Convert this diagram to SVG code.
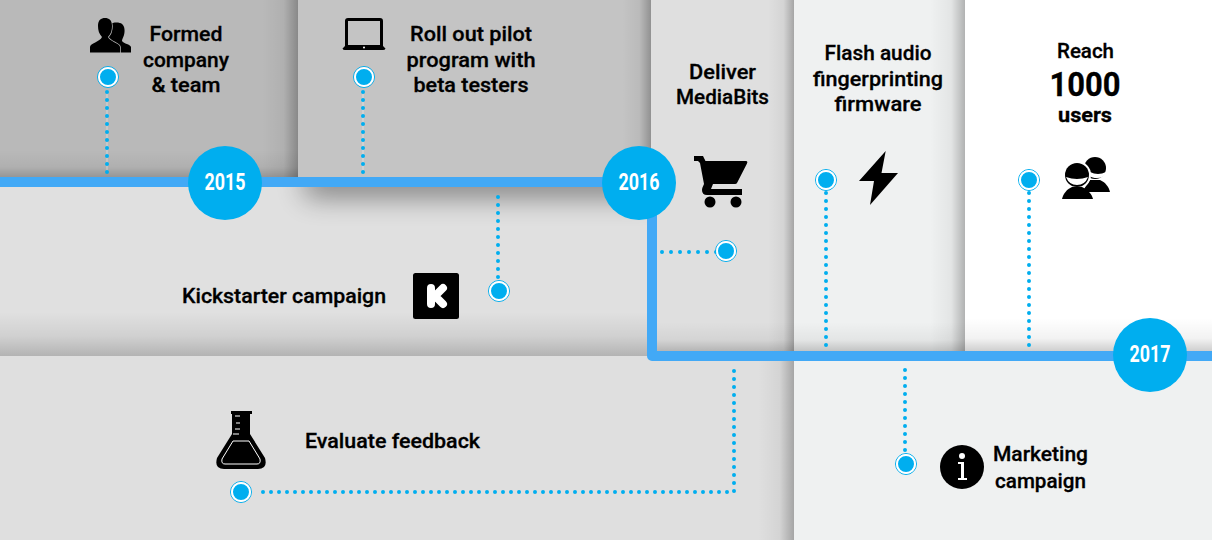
<svg xmlns="http://www.w3.org/2000/svg" width="1212" height="540" viewBox="0 0 1212 540">
<style>
text{font-family:"Roboto","Liberation Sans",sans-serif;font-weight:500;font-size:21px;fill:#000;text-anchor:middle}
.lab{font-weight:500;stroke:#000;stroke-width:.3px}
.strong{font-weight:700}
.yr{font-size:24px;fill:#fff;font-weight:700}
.dot{fill:none;stroke:#00aeef;stroke-width:4;stroke-linecap:round;stroke-dasharray:0 8}
.wide{stroke-dasharray:0 9}
.faint{fill:none;stroke:#fff;stroke-opacity:.45;stroke-width:1}
.ring{fill:#00aeef;stroke:#fff;stroke-width:2}
.halo{fill:none;stroke:#00aeef;stroke-width:1}
.big{fill:#00aeef}
</style>
<defs>
<linearGradient id="r" x1="0" x2="1" y1="0" y2="0"><stop offset="0" stop-color="#000" stop-opacity="0"/><stop offset=".6" stop-color="#000" stop-opacity=".05"/><stop offset="1" stop-color="#000" stop-opacity=".26"/></linearGradient>
<linearGradient id="b" x1="0" x2="0" y1="0" y2="1"><stop offset="0" stop-color="#000" stop-opacity="0"/><stop offset=".6" stop-color="#000" stop-opacity=".05"/><stop offset="1" stop-color="#000" stop-opacity=".2"/></linearGradient>
<linearGradient id="b2" x1="0" x2="0" y1="0" y2="1"><stop offset="0" stop-color="#000" stop-opacity="0"/><stop offset=".55" stop-color="#000" stop-opacity=".07"/><stop offset="1" stop-color="#000" stop-opacity=".2"/></linearGradient>
<filter id="blur" x="-20%" y="-100%" width="140%" height="300%"><feGaussianBlur stdDeviation="14"/></filter>
<clipPath id="low"><rect x="0" y="187" width="651" height="169"/></clipPath>
</defs>
<g id="background">
<rect x="0" y="0" width="298" height="180" fill="#b9b9b9"/>
<rect x="298" y="0" width="353" height="180" fill="#c4c4c4"/>
<rect x="651" y="0" width="143" height="356" fill="#dfdfdf"/>
<rect x="794" y="0" width="171" height="356" fill="#eff1f1"/>
<rect x="965" y="0" width="247" height="356" fill="#fff"/>
<rect x="0" y="185" width="651" height="171" fill="#e0e0e0"/>
<rect x="0" y="356" width="794" height="184" fill="#dfdfdf"/>
<rect x="794" y="356" width="418" height="184" fill="#eff1f1"/>
<rect x="0" y="150" width="298" height="28" fill="url(#b)"/>
<rect x="262" y="0" width="36" height="178" fill="url(#r)"/>
<rect x="622" y="0" width="29" height="178" fill="url(#r)"/>
<rect x="768" y="0" width="26" height="352" fill="url(#r)"/>
<rect x="930" y="0" width="35" height="352" fill="url(#r)"/>
<rect x="651" y="322" width="143" height="30" fill="url(#b)"/>
<rect x="794" y="322" width="171" height="30" fill="url(#b)"/>
<rect x="965" y="318" width="247" height="34" fill="url(#b)"/>
<rect x="0" y="312" width="651" height="44" fill="url(#b2)"/>
<g clip-path="url(#low)"><rect x="305" y="165" width="350" height="32" fill="#000" opacity=".42" filter="url(#blur)"/></g>
<rect x="758" y="356" width="36" height="184" fill="url(#r)"/>
</g>
<g id="connectors">
<path d="M0 182H651M652 187V356H1212" fill="none" stroke="#42a9f6" stroke-width="10" stroke-linejoin="round"/>
<path class="faint" d="M107 172V90M363 172V90"/>
<path class="dot" d="M107 172V90M363 172V90M498 197V284M826 345V190M1029 345V190M734 371V492H256M905 370V454"/>
<path class="dot wide" d="M662 252H718"/>
</g>
<g id="node-2015"><circle class="big" cx="225" cy="183" r="37"/><text class="yr" x="225" y="190" textLength="41" lengthAdjust="spacingAndGlyphs">2015</text></g>
<g id="node-2016"><circle class="big" cx="639" cy="183" r="37"/><text class="yr" x="639" y="190" textLength="41" lengthAdjust="spacingAndGlyphs">2016</text></g>
<g id="node-2017"><circle class="big" cx="1150" cy="355" r="37"/><text class="yr" x="1150" y="362" textLength="41" lengthAdjust="spacingAndGlyphs">2017</text></g>
<g id="node-formed">
<circle class="halo" cx="108" cy="77" r="10.5"/><circle class="ring" cx="108" cy="77" r="9"/>
<path d="M110 24C113 22 120 22 122 24C125 26 125 32 124 35C123 38 122 39 122 41C124 44 130 44 131 47V52.500H108Z"/>
<path d="M90 52.500V47C90 43 100 42 102 37C99 34 98 30 98 26C98 20 101 18 105 18C109 18 112 20 112 26C112 30 111 34 108 37C110 42 120 43 120 47V52.500Z" stroke="#b9b9b9" stroke-width="1.500" paint-order="stroke"/>
<text class="lab" x="186" y="41" textLength="73" lengthAdjust="spacingAndGlyphs">Formed</text>
<text class="lab" x="186" y="67" textLength="86" lengthAdjust="spacingAndGlyphs">company</text>
<text class="lab" x="186" y="92" textLength="69" lengthAdjust="spacingAndGlyphs">&amp; team</text>
</g>
<g id="node-rollout">
<circle class="halo" cx="364" cy="77" r="10.5"/><circle class="ring" cx="364" cy="77" r="9"/>
<path fill-rule="evenodd" d="M348 18H380Q383 18 383 21V46L385.500 48.500Q385 50 383 50H345Q343 50 342.500 48.500L345 46V21Q345 18 348 18ZM348 21V45H380V21Z"/>
<circle cx="364" cy="47.500" r="1" fill="#fff"/>
<text class="lab" x="471" y="41" textLength="122" lengthAdjust="spacingAndGlyphs">Roll out pilot</text>
<text class="lab" x="471" y="67" textLength="129" lengthAdjust="spacingAndGlyphs">program with</text>
<text class="lab" x="471" y="92" textLength="115" lengthAdjust="spacingAndGlyphs">beta testers</text>
</g>
<g id="node-kickstarter">
<circle class="halo" cx="499" cy="291" r="10.5"/><circle class="ring" cx="499" cy="291" r="9"/>
<rect x="413" y="273" width="46" height="46" rx="2.500"/>
<path d="M431 288V304M443 288L435 296L443 304" fill="none" stroke="#fff" stroke-width="8" stroke-linecap="round" stroke-linejoin="round"/>
<text class="lab" x="284" y="303" textLength="204" lengthAdjust="spacingAndGlyphs">Kickstarter campaign</text>
</g>
<g id="node-deliver">
<circle class="halo" cx="726" cy="251" r="10.5"/><circle class="ring" cx="726" cy="251" r="9"/>
<path d="M694 156H703L705.500 161H746Q748 161 747 163.500L737 183Q736.500 184 735 184H713L711 189H742V195H707Q702 195 702 190Q702 188 704 184L700 163L698 161H694Z"/>
<circle cx="710" cy="202" r="5.500"/><circle cx="736" cy="202" r="5.500"/>
<text class="lab" x="722.500" y="79" textLength="67" lengthAdjust="spacingAndGlyphs">Deliver</text>
<text class="lab" x="722.500" y="104" textLength="93" lengthAdjust="spacingAndGlyphs">MediaBits</text>
</g>
<g id="node-flash">
<circle class="halo" cx="826" cy="180" r="10.5"/><circle class="ring" cx="826" cy="180" r="9"/>
<polygon points="885.700,151 859,181 874,181 870,205 898,173 881.500,173"/>
<text class="lab" x="878" y="60" textLength="107" lengthAdjust="spacingAndGlyphs">Flash audio</text>
<text class="lab" x="878" y="86" textLength="130" lengthAdjust="spacingAndGlyphs">fingerprinting</text>
<text class="lab" x="878" y="111" textLength="87" lengthAdjust="spacingAndGlyphs">firmware</text>
</g>
<g id="node-reach">
<circle class="halo" cx="1029" cy="180" r="10.5"/><circle class="ring" cx="1029" cy="180" r="9"/>
<circle cx="1095" cy="168" r="11"/>
<path d="M1090 180H1100C1105 182 1109 187 1110 192H1082Z"/>
<circle cx="1077" cy="175" r="14" fill="#fff"/>
<path d="M1090 172Q1098 176 1106 172Q1104 178 1097 178Q1092 178 1090 176Z" fill="#fff"/>
<path d="M1062 199C1063 194 1067 189 1072 187H1082C1087 189 1092 194 1093 199Z"/>
<circle cx="1077" cy="175" r="12"/>
<path d="M1066 177Q1077 181 1088 177Q1085 185 1077 185Q1069 185 1066 177Z" fill="#fff"/>
<text class="lab" x="1085.500" y="58" textLength="57" lengthAdjust="spacingAndGlyphs">Reach</text>
<text class="lab strong" x="1085" y="96" style="font-size:34px" textLength="71" lengthAdjust="spacingAndGlyphs">1000</text>
<text class="lab strong" x="1085" y="122" textLength="54" lengthAdjust="spacingAndGlyphs">users</text>
</g>
<g id="node-evaluate">
<circle class="halo" cx="241" cy="492" r="10.5"/><circle class="ring" cx="241" cy="492" r="9"/>
<path d="M231 411H252V414H250V434L265 458Q268 469 258 469H224Q214 469 217 458L232 434V414H231Z"/>
<path d="M233 441L222 459Q221 464 225 464H257Q261 464 260 459L249 441Z" fill="none" stroke="#fff" stroke-width="1"/>
<path d="M235 416H240M236 423H240M235 429H240M233 434H239" stroke="#fff" stroke-width="1.200"/>
<text class="lab" x="392.500" y="448" textLength="175" lengthAdjust="spacingAndGlyphs">Evaluate feedback</text>
</g>
<g id="node-marketing">
<circle class="halo" cx="906" cy="464" r="10.5"/><circle class="ring" cx="906" cy="464" r="9"/>
<circle cx="962" cy="467" r="22"/>
<circle cx="962" cy="456" r="3" fill="#fff"/>
<path d="M958 462H964V478H967V480H958V478H961V464H958Z" fill="#fff"/>
<text class="lab" x="1040.500" y="461" textLength="95" lengthAdjust="spacingAndGlyphs">Marketing</text>
<text class="lab" x="1040.500" y="488" textLength="91" lengthAdjust="spacingAndGlyphs">campaign</text>
</g>
</svg>
